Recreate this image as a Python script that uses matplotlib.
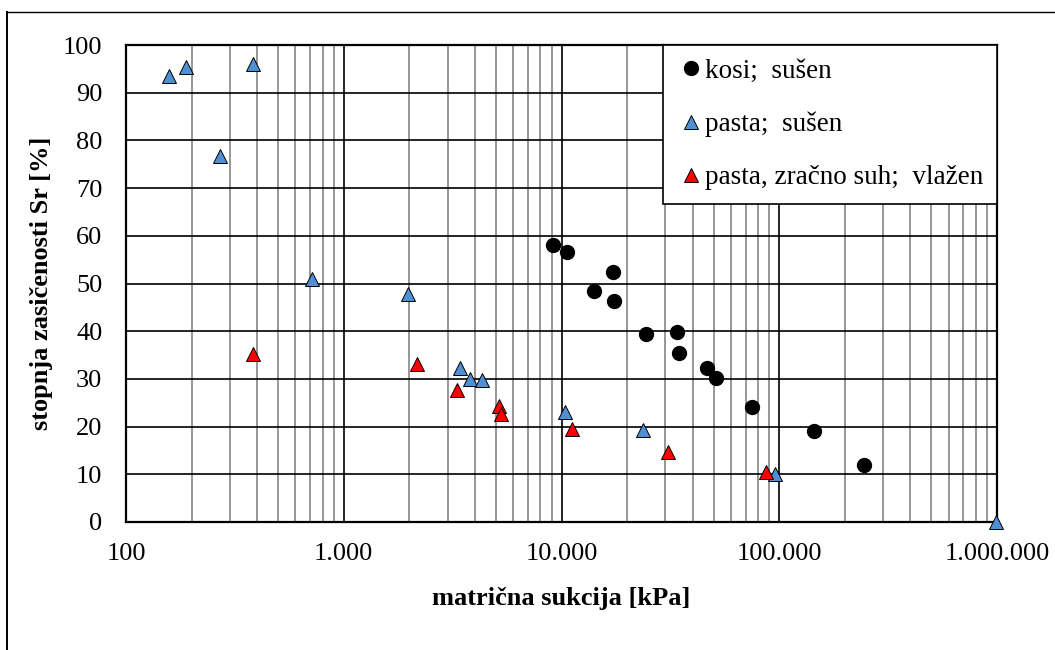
import numpy as np
import matplotlib.pyplot as plt
from matplotlib.ticker import FixedLocator, LogLocator, NullFormatter
from matplotlib.lines import Line2D

plt.rcParams['font.family'] = ['Liberation Serif', 'DejaVu Serif']

# kosi; sušen
kosi_x = [9180, 10580, 17170, 14050, 17460, 24320, 33800, 34750, 46800, 51000, 75300, 145000, 246000]
kosi_y = [58.0, 56.6, 52.5, 48.5, 46.4, 39.4, 39.8, 35.4, 32.3, 30.2, 24.2, 19.0, 11.9]

# pasta; sušen
pasta_x = [158, 188, 385, 270, 713, 1968, 3420, 3816, 4335, 10400, 23600, 95300, 993000]
pasta_y = [93.4, 95.3, 96.0, 76.8, 50.9, 47.7, 32.3, 30.0, 29.8, 23.1, 19.2, 10.0, 0.0]

# pasta, zračno suh; vlažen
zrak_x = [382, 2173, 3327, 5150, 5280, 11120, 31000, 87100]
zrak_y = [35.3, 33.2, 27.6, 24.3, 22.7, 19.4, 14.7, 10.5]

x_ticks = [100, 1000, 10000, 100000, 1000000]
x_labels = ['100', '1.000', '10.000', '100.000', '1.000.000']
y_ticks = list(range(0, 101, 10))

W, H = 1055, 650
fig = plt.figure(figsize=(W / 100, H / 100), dpi=100)
ax = fig.add_axes([126 / W, (H - 522) / H, (997 - 126) / W, (522 - 45) / H])

ax.plot(kosi_x, kosi_y, 'o', color='black', markersize=10, linestyle='none',
        label='kosi;  sušen', zorder=3)
ax.plot(pasta_x, pasta_y, '^', color='#4F8FD3', markeredgecolor='black',
        markeredgewidth=0.7, markersize=10.3, linestyle='none',
        label='pasta;  sušen', zorder=3, clip_on=False)
ax.plot(zrak_x, zrak_y, '^', color='#FF0000', markeredgecolor='black',
        markeredgewidth=0.7, markersize=10.3, linestyle='none',
        label='pasta, zračno suh;  vlažen', zorder=3)

ax.set_xscale('log')
ax.set_xlim(100, 1000000)
ax.set_ylim(0, 100)

ax.xaxis.set_major_locator(FixedLocator(x_ticks))
ax.set_xticklabels(x_labels)
ax.xaxis.set_minor_locator(LogLocator(base=10, subs=np.arange(2, 10)))
ax.xaxis.set_minor_formatter(NullFormatter())
ax.set_yticks(y_ticks)

ax.tick_params(axis='both', which='both', length=0, labelsize=19)
ax.tick_params(axis='y', pad=17)
ax.tick_params(axis='x', pad=15)

ax.grid(True, which='major', axis='both', color='black', linewidth=1.2, zorder=1)
ax.grid(True, which='minor', axis='x', color='#858585', linewidth=1.2, zorder=1)
ax.set_axisbelow(True)

for s in ax.spines.values():
    s.set_linewidth(1.6)

ax.set_xlabel('matrična sukcija [kPa]', fontsize=19, fontweight='bold')
ax.set_ylabel('stopnja zasičenosti Sr [%]', fontsize=19, fontweight='bold')
ax.xaxis.set_label_coords(0.5, -0.137)
ax.yaxis.set_label_coords(-0.084, 0.5)

leg = ax.legend(loc='upper right', bbox_to_anchor=(1, 1), borderaxespad=0,
                fontsize=19.5, frameon=True, fancybox=False, shadow=False,
                handlelength=1.05, handletextpad=0.0, borderpad=0.5,
                labelspacing=1.04, numpoints=1)
leg.get_frame().set_edgecolor('black')
leg.get_frame().set_linewidth(1.2)
leg.get_frame().set_alpha(1)

# outer frame of the chart area (left and top edges)
fig.add_artist(Line2D([7 / W, 7 / W], [0, 1 - 12 / H], color='black', linewidth=1.4,
                      transform=fig.transFigure))
fig.add_artist(Line2D([7 / W, 1], [1 - 12 / H, 1 - 12 / H], color='black', linewidth=1.0,
                      transform=fig.transFigure))

fig.savefig('out.png', dpi=100)
